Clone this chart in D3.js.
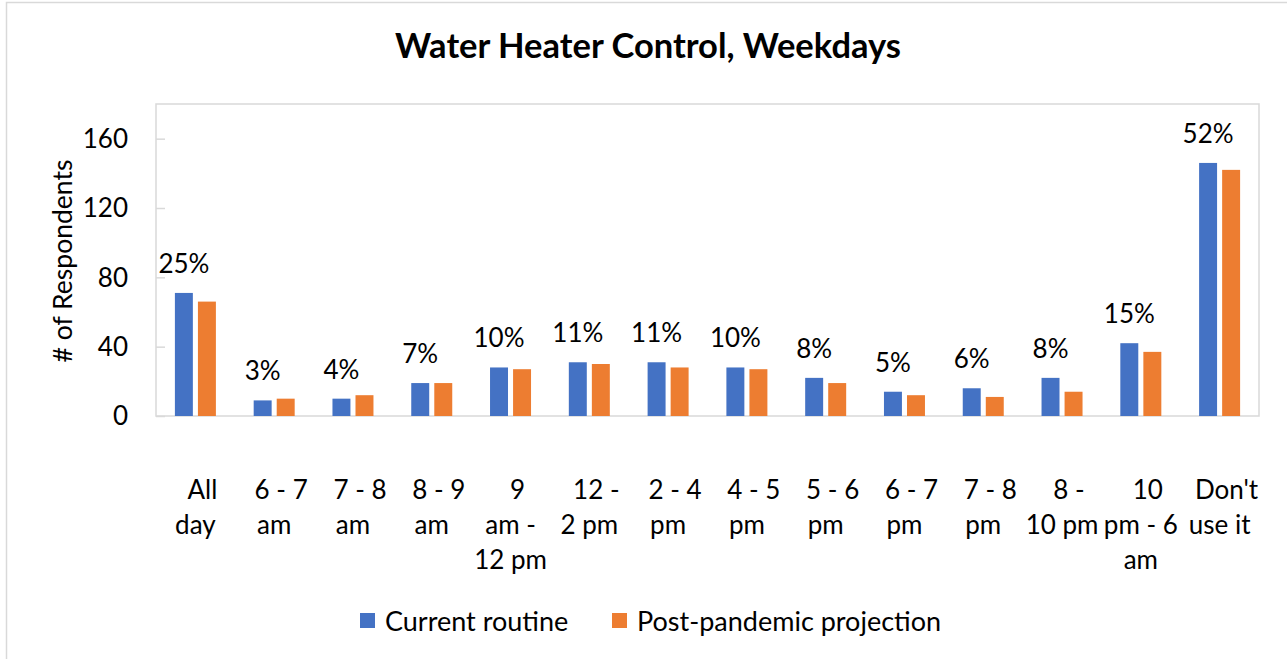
<!DOCTYPE html>
<html><head><meta charset="utf-8">
<script src="https://cdn.jsdelivr.net/npm/d3@7"></script>
<style>
body{margin:0;background:#fff}
svg{display:block}
text{font-family:Lato,'Open Sans',sans-serif;fill:#000}
</style>
</head><body>
<svg id="chart" width="1287" height="659"></svg>
<script>
const categories = ["All day","6 - 7 am","7 - 8 am","8 - 9 am","9 am - 12 pm","12 - 2 pm","2 - 4 pm","4 - 5 pm","5 - 6 pm","6 - 7 pm","7 - 8 pm","8 - 10 pm","10 pm - 6 am","Don't use it"];
const categoryLines = [["All","day"],["6 - 7","am"],["7 - 8","am"],["8 - 9","am"],["9","am -","12 pm"],["12 -","2 pm"],["2 - 4","pm"],["4 - 5","pm"],["5 - 6","pm"],["6 - 7","pm"],["7 - 8","pm"],["8 -","10 pm"],["10","pm - 6","am"],["Don't","use it"]];
const currentRoutine = [71,9,10,19,28,31,31,28,22,14,16,22,42,146];
const postPandemic = [66,10,12,19,27,30,28,27,19,12,11,14,37,142];
const percentLabels = ["25%","3%","4%","7%","10%","11%","11%","10%","8%","5%","6%","8%","15%","52%"];
const seriesNames = ["Current routine","Post-pandemic projection"];
const seriesColors = ["#4472C4","#ED7D31"];
const yTicks = [0,40,80,120,160];
const title = "Water Heater Control, Weekdays";
const yTitle = "# of Respondents";

const svg = d3.select("#chart");
const L = 156, R = 1259, T = 104, B = 416;
const grid = "#d9d9d9";

// outer chart border
svg.append("rect").attr("x",6.5).attr("y",2.5).attr("width",1300).attr("height",700)
  .attr("fill","#fff").attr("stroke",grid).attr("stroke-width",1.5);

const x0 = d3.scaleBand().domain(categories).range([L,R]).padding(0);
const x1 = d3.scaleBand().domain(seriesNames).range([-20.5,20.5]).paddingInner(0.22);
const y = d3.scaleLinear().domain([0,180]).range([B,T]);
const color = d3.scaleOrdinal().domain(seriesNames).range(seriesColors);

// plot area border
svg.append("rect").attr("x",L).attr("y",T).attr("width",R-L).attr("height",B-T)
  .attr("fill","none").attr("stroke",grid).attr("stroke-width",1.5);

// y axis (inside ticks)
const yAxis = d3.axisRight(y).tickValues(yTicks).tickSize(9).tickFormat("");
const ya = svg.append("g").attr("transform",`translate(${L},0)`).call(yAxis);
ya.select(".domain").remove();
ya.selectAll("line").attr("stroke",grid).attr("stroke-width",1.5);
svg.append("g").selectAll("text").data(yTicks).join("text")
  .attr("x",128).attr("y",d=>y(d)).attr("dy","0.36em").attr("text-anchor","end")
  .style("font-size","26px").text(d=>d);

// bars
const data = categories.map((c,i)=>({cat:c, vals:[currentRoutine[i],postPandemic[i]]}));
const groups = svg.append("g").selectAll("g").data(data).join("g")
  .attr("transform",d=>`translate(${x0(d.cat)+x0.bandwidth()/2},0)`);
groups.selectAll("rect").data(d=>d.vals.map((v,j)=>({s:seriesNames[j],v}))).join("rect")
  .attr("x",d=>x1(d.s)).attr("width",x1.bandwidth())
  .attr("y",d=>y(d.v)).attr("height",d=>B-y(d.v))
  .attr("fill",d=>color(d.s));

// percent labels over the first series
groups.append("text")
  .attr("x",x1(seriesNames[0])+x1.bandwidth()/2)
  .attr("y",(d)=>y(d.vals[0])-20)
  .attr("text-anchor","middle").style("font-size","26px")
  .text((d,i)=>percentLabels[i]);

// category labels
const cl = svg.append("g").selectAll("text").data(categories).join("text")
  .attr("text-anchor","middle").style("font-size","26px");
cl.each(function(c,i){
  const t = d3.select(this);
  const lines = categoryLines[i];
  lines.forEach((ln,k)=>{
    t.append("tspan").attr("x",x0(c)+x0.bandwidth()/2 + (k===0 && lines.length>1 ? 7 : 0))
      .attr("y",499+k*35).text(ln);
  });
});

// title
svg.append("text").attr("x",648).attr("y",58).attr("text-anchor","middle")
  .style("font-size","34.5px").style("font-weight","bold").text(title);

// y title
svg.append("text").attr("transform","translate(72,261) rotate(-90)")
  .attr("text-anchor","middle").style("font-size","26.5px").text(yTitle);

// legend
const legX = [360,612];
const leg = svg.append("g").selectAll("g").data(seriesNames).join("g")
  .attr("transform",(d,i)=>`translate(${legX[i]},613)`);
leg.append("rect").attr("width",15).attr("height",15).attr("fill",d=>color(d));
leg.append("text").attr("x",25).attr("y",17.5).style("font-size","27px").text(d=>d);
</script>
</body></html>
